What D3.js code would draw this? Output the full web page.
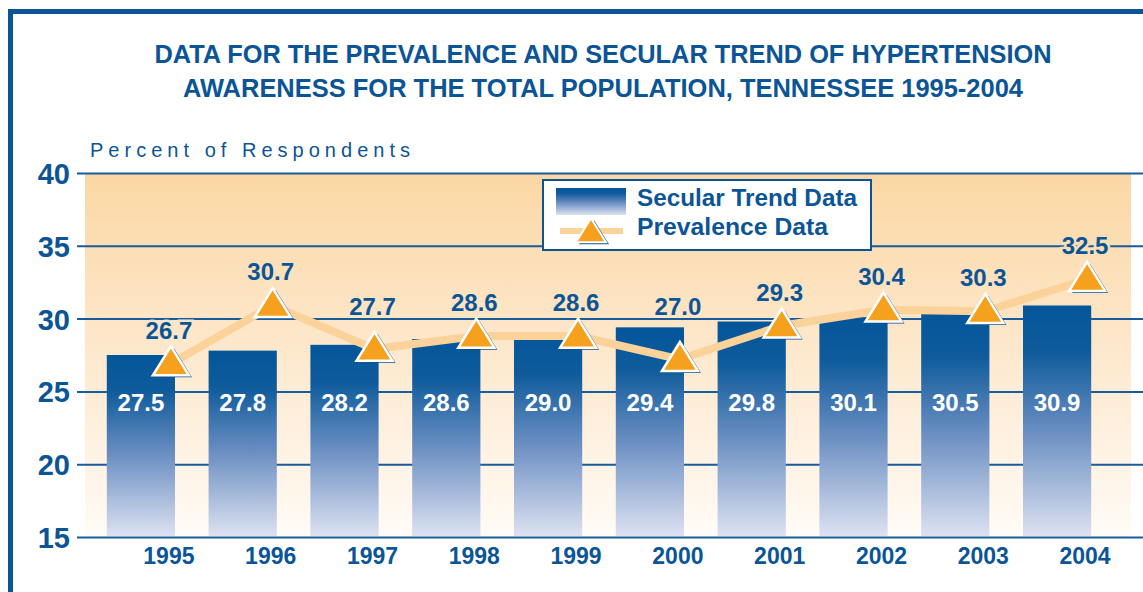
<!DOCTYPE html>
<html lang="en">
<head>
<meta charset="utf-8">
<title>Hypertension awareness, Tennessee 1995-2004</title>
<script src="https://cdn.jsdelivr.net/npm/d3@7"></script>
<style>
  body { margin: 0; background: #fff; }
  svg { display: block; font-family: "Liberation Sans", Arial, sans-serif; }
</style>
</head>
<body>
<svg id="chart" width="1143" height="592"></svg>
<script>
// data
var years = ["1995", "1996", "1997", "1998", "1999", "2000", "2001", "2002", "2003", "2004"];
var secular = [27.5, 27.8, 28.2, 28.6, 29.0, 29.4, 29.8, 30.1, 30.5, 30.9];
var prevalence = [26.7, 30.7, 27.7, 28.6, 28.6, 27.0, 29.3, 30.4, 30.3, 32.5];
var yTicks = [15, 20, 25, 30, 35, 40];

var blue = "#0b5597";
var svg = d3.select("#chart");
var defs = svg.append("defs");

// background gradient of plot area (also used as text halo)
var bg = defs.append("linearGradient").attr("id", "bgGrad")
  .attr("gradientUnits", "userSpaceOnUse")
  .attr("x1", 0).attr("x2", 0).attr("y1", 173).attr("y2", 537);
bg.append("stop").attr("offset", "0%").attr("stop-color", "#fbd7a4");
bg.append("stop").attr("offset", "45%").attr("stop-color", "#fde7ca");
bg.append("stop").attr("offset", "100%").attr("stop-color", "#fffbf6");

var barGrad = defs.append("linearGradient").attr("id", "barGrad")
  .attr("x1", 0).attr("x2", 0).attr("y1", 0).attr("y2", 1);
barGrad.append("stop").attr("offset", "0%").attr("stop-color", "#03569a");
barGrad.append("stop").attr("offset", "20%").attr("stop-color", "#0f5b9c");
barGrad.append("stop").attr("offset", "55%").attr("stop-color", "#6b8fc2");
barGrad.append("stop").attr("offset", "100%").attr("stop-color", "#dde2f1");

// frame
svg.append("rect").attr("x", 8).attr("y", 9).attr("width", 1200).attr("height", 5).attr("fill", blue);
svg.append("rect").attr("x", 8).attr("y", 9).attr("width", 5).attr("height", 600).attr("fill", blue);

// title
svg.append("text").attr("x", 603).attr("y", 63).attr("text-anchor", "middle")
  .attr("font-size", 26).attr("font-weight", "bold").attr("fill", blue)
  .attr("textLength", 897).attr("lengthAdjust", "spacingAndGlyphs")
  .text("DATA FOR THE PREVALENCE AND SECULAR TREND OF HYPERTENSION");
svg.append("text").attr("x", 603).attr("y", 97).attr("text-anchor", "middle")
  .attr("font-size", 26).attr("font-weight", "bold").attr("fill", blue)
  .attr("textLength", 840).attr("lengthAdjust", "spacingAndGlyphs")
  .text("AWARENESS FOR THE TOTAL POPULATION, TENNESSEE 1995-2004");

svg.append("text").attr("x", 90).attr("y", 157)
  .attr("font-size", 20).attr("fill", blue)
  .attr("textLength", 320).attr("lengthAdjust", "spacing")
  .text("Percent of Respondents");

var x = d3.scaleBand().domain(years).range([90, 1108]).paddingInner(0.33).paddingOuter(0.165);
var y = d3.scaleLinear().domain([15, 40]).range([537, 173]);
var off = 30; // triangles and year labels sit to the right of the bar centre

svg.append("rect").attr("x", 85).attr("y", y(40)).attr("width", 1046).attr("height", y(15) - y(40))
  .attr("fill", "url(#bgGrad)");

// gridlines + tick labels
var yAxis = d3.axisLeft(y).tickValues(yTicks).tickSize(-1066).tickPadding(7);
var gy = svg.append("g").attr("transform", "translate(77,0)").call(yAxis);
gy.select(".domain").remove();
gy.selectAll(".tick line").attr("x1", 0).attr("x2", 1066).attr("stroke", "#1a5c9b").attr("stroke-width", 2);
gy.selectAll(".tick text").attr("fill", blue).attr("font-size", 29).attr("font-weight", "bold")
  .attr("font-family", "Liberation Sans, Arial, sans-serif").attr("dy", "0.36em");

// bars
svg.append("g").selectAll("rect").data(secular).join("rect")
  .attr("x", function(d, i) { return x(years[i]); })
  .attr("y", function(d) { return y(d); })
  .attr("width", x.bandwidth())
  .attr("height", function(d) { return y(15) - y(d) - 1; })
  .attr("fill", "url(#barGrad)");

svg.append("g").selectAll("text").data(secular).join("text")
  .attr("x", function(d, i) { return x(years[i]) + x.bandwidth() / 2; })
  .attr("y", 411).attr("text-anchor", "middle")
  .attr("font-size", 24).attr("font-weight", "bold").attr("fill", "#fff")
  .text(function(d) { return d.toFixed(1); });

// x axis labels
svg.append("g").selectAll("text").data(years).join("text")
  .attr("x", function(d) { return x(d) + x.bandwidth() / 2 + off - 2; })
  .attr("y", 564).attr("text-anchor", "middle")
  .attr("font-size", 23).attr("font-weight", "bold").attr("fill", blue)
  .text(function(d) { return d; });

// prevalence line
var px = function(i) { return x(years[i]) + x.bandwidth() / 2 + off; };
var line = d3.line().x(function(d, i) { return px(i); }).y(function(d) { return y(d) - 3; });
svg.append("path").datum(prevalence).attr("d", line)
  .attr("fill", "none").attr("stroke", "#fcd29b").attr("stroke-width", 8).attr("stroke-linejoin", "round");

function tri(cx, cy, w, h) {
  return "M" + cx + "," + (cy - h * 0.7) + "L" + (cx + w / 2) + "," + (cy + h * 0.3) + "L" + (cx - w / 2) + "," + (cy + h * 0.3) + "Z";
}
var tg = svg.append("g").selectAll("g").data(prevalence).join("g");
tg.append("path").attr("d", function(d, i) { return tri(px(i) + 3, y(d) + 2, 36, 29); }).attr("fill", blue);
tg.append("path").attr("d", function(d, i) { return tri(px(i), y(d), 36, 29); })
  .attr("fill", "#f5a11d").attr("stroke", "#fff").attr("stroke-width", 2.5).attr("stroke-linejoin", "miter");

// keep value labels clear of gridlines where they only clip an edge
function labelY(v) {
  var b = y(v) - 28, cap = 17;
  yTicks.forEach(function(t) {
    var g = y(t);
    if (g < b - cap - 2 || g > b + 2) return;
    if (g >= b - 13 && g <= b - 6) return; // right through the middle: halo handles it
    var down = g + cap + 4;
    b = (down - b <= 3) ? down : g - 4;
  });
  return b;
}

svg.append("g").selectAll("text").data(prevalence).join("text")
  .attr("x", function(d, i) { return px(i) - 2; })
  .attr("y", labelY).attr("text-anchor", "middle")
  .attr("font-size", 24).attr("font-weight", "bold").attr("fill", blue)
  .attr("stroke", "url(#bgGrad)").attr("stroke-width", 5).attr("paint-order", "stroke")
  .text(function(d) { return d.toFixed(1); });

// legend
var lg = svg.append("g");
lg.append("rect").attr("x", 543).attr("y", 180).attr("width", 328).attr("height", 70)
  .attr("fill", "#fff").attr("stroke", blue).attr("stroke-width", 2);
lg.append("rect").attr("x", 556).attr("y", 188).attr("width", 70).attr("height", 27).attr("fill", "url(#barGrad)");
lg.append("rect").attr("x", 560).attr("y", 228).attr("width", 63).attr("height", 6).attr("fill", "#fcd29b");
lg.append("path").attr("d", tri(594, 237, 30, 24)).attr("fill", blue);
lg.append("path").attr("d", tri(591, 235, 30, 24)).attr("fill", "#f5a11d").attr("stroke", "#fff").attr("stroke-width", 2);
lg.append("text").attr("x", 637).attr("y", 206).attr("font-size", 23).attr("font-weight", "bold").attr("fill", blue)
  .attr("textLength", 220).attr("lengthAdjust", "spacingAndGlyphs").text("Secular Trend Data");
lg.append("text").attr("x", 637).attr("y", 235).attr("font-size", 23).attr("font-weight", "bold").attr("fill", blue)
  .attr("textLength", 191).attr("lengthAdjust", "spacingAndGlyphs").text("Prevalence Data");
</script>
</body>
</html>
